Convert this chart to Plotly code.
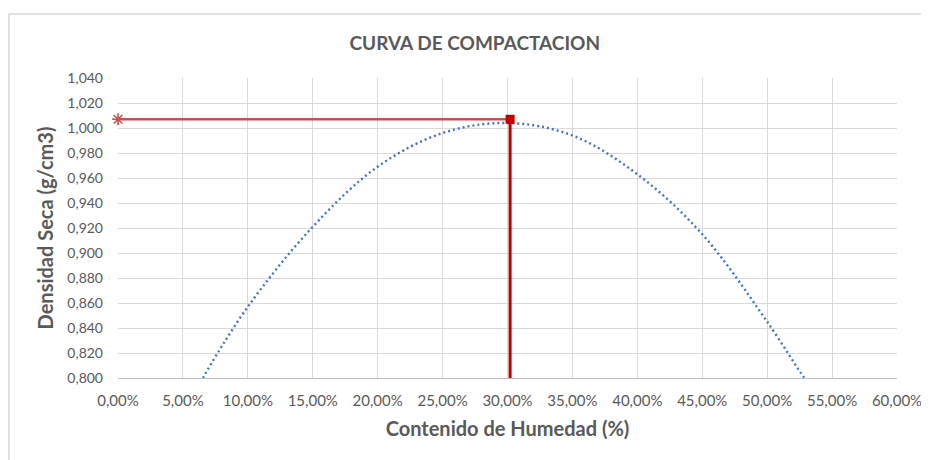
import plotly.graph_objects as go

# curve (humedad %, densidad seca g/cm3)
humedad = [6.55, 6.7, 10.0, 15.0, 20.0, 25.0, 30.0, 35.0, 40.0, 45.0, 50.0, 52.8, 52.9]
densidad = [0.800, 0.803, 0.857, 0.921, 0.969, 0.996, 1.004, 0.994, 0.963, 0.915, 0.845, 0.801, 0.800]

# optimum point and guide lines
hum_opt = 30.2
dens_opt = 1.007
dens_min = 0.800

x_ticks = [0, 5, 10, 15, 20, 25, 30, 35, 40, 45, 50, 55, 60]
y_ticks = [0.80, 0.82, 0.84, 0.86, 0.88, 0.90, 0.92, 0.94, 0.96, 0.98, 1.00, 1.02, 1.04]

GREY = '#595959'
FONT = 'Lato'

fig = go.Figure()

fig.add_trace(go.Scatter(x=humedad, y=densidad, mode='lines', line_shape='spline',
                         line=dict(color='#4472C4', width=2.4, dash='2px,3px'), showlegend=False))

# horizontal guide to the y axis
fig.add_trace(go.Scatter(x=[0, hum_opt], y=[dens_opt, dens_opt], mode='lines',
                         line=dict(color='#C9504F', width=2.5), showlegend=False, cliponaxis=False))
fig.add_trace(go.Scatter(x=[0], y=[dens_opt], mode='markers', cliponaxis=False,
                         marker=dict(symbol='asterisk-open', size=10, color='#C9504F',
                                     line=dict(color='#C9504F', width=1.6)),
                         showlegend=False))

# vertical guide down to the x axis
fig.add_trace(go.Scatter(x=[hum_opt, hum_opt], y=[dens_min, dens_opt], mode='lines',
                         line=dict(color='#C00000', width=3), showlegend=False, cliponaxis=False))
fig.add_trace(go.Scatter(x=[hum_opt], y=[dens_opt], mode='markers', cliponaxis=False,
                         marker=dict(symbol='square', size=9, color='#C00000'), showlegend=False))

fig.update_layout(
    width=929, height=460,
    margin=dict(l=110, r=40, t=70, b=90),
    paper_bgcolor='white', plot_bgcolor='white',
    separators=',.',
    font=dict(family=FONT, color=GREY, size=14),
    title=dict(text='<b>CURVA DE COMPACTACION</b>', x=0.458, xref='paper', xanchor='center',
               y=0.924, yref='container', yanchor='middle', font=dict(size=19, color=GREY)),
    xaxis=dict(range=[0, 60], tickvals=x_ticks, ticktext=[f'{v:.2f}'.replace('.', ',') + '%' for v in x_ticks],
               tickfont=dict(size=15),
               showgrid=True, gridcolor='#D9D9D9', gridwidth=1.3, zeroline=False, automargin=False,
               showline=True, linecolor='#BFBFBF', linewidth=1.3, ticks='', ticklabelstandoff=9,
               title=dict(text='<b>Contenido de Humedad (%)</b>', font=dict(size=20, color=GREY), standoff=13)),
    yaxis=dict(range=[0.8, 1.04], tickvals=y_ticks, tickformat='.3f', automargin=False,
               showgrid=True, gridcolor='#D9D9D9', gridwidth=1.3, zeroline=False,
               showline=False, ticks='', ticklabelstandoff=14,
               title=dict(text='<b>Densidad Seca (g/cm3)</b>', font=dict(size=20, color=GREY), standoff=8)),
    shapes=[dict(type='rect', xref='paper', yref='paper', x0=-0.14, x1=1.2, y0=-0.5, y1=1.213,
                 line=dict(color='#D9D9D9', width=1.5), layer='below')],
)

fig.write_html('out.html')
